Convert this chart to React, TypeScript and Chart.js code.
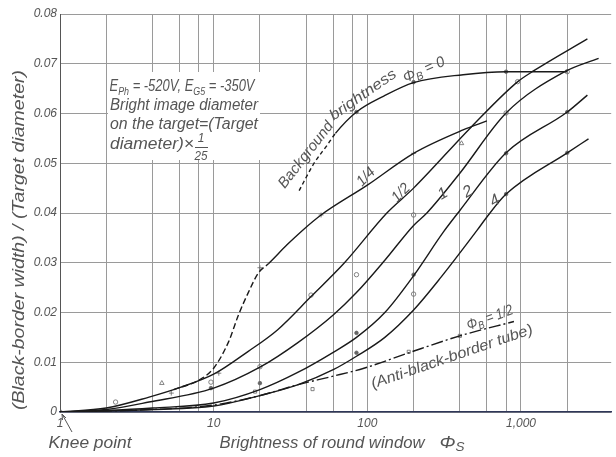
import React, { useEffect, useRef } from 'react';
import { Chart, registerables } from 'chart.js';
Chart.register(...registerables);

// ---- data ----
const xGridValues = [1, 2, 4, 6, 8, 10, 20, 40, 60, 80, 100, 200, 400, 600, 800, 1000, 2000];
const xTickLabels: Record<number, string> = { 1: '1', 10: '10', 100: '100', 1000: '1,000' };
const yTickValues = [0, 0.01, 0.02, 0.03, 0.04, 0.05, 0.06, 0.07, 0.08];

const phiB0X = [36, 45, 55, 62, 85, 128, 200, 420, 800, 2000];
const phiB0Y = [0.0445, 0.05, 0.0537, 0.056, 0.0603, 0.0635, 0.0662, 0.0678, 0.0684, 0.0684];

const phiB14X = [5.5, 8, 10, 12.5, 14.5, 16.8, 19.6, 22.7, 30, 37.5, 50, 100, 200, 420, 600];
const phiB14Y = [0.0045, 0.0064, 0.0088, 0.0141, 0.0195, 0.024, 0.028, 0.0298, 0.0336, 0.0364, 0.0396, 0.0456, 0.052, 0.0567, 0.0585];

const phiB12X = [1, 2, 3.8, 6, 10, 16.8, 26, 43, 71, 134, 200, 475, 953, 1213, 2705];
const phiB12Y = [0, 0.0008, 0.003, 0.0049, 0.0076, 0.0122, 0.0165, 0.0232, 0.03, 0.04, 0.045, 0.0573, 0.0664, 0.0686, 0.075];

const phiB1X = [1, 2, 3.8, 10, 20, 35.5, 60, 85, 130, 200, 244, 400, 800, 1926, 3200];
const phiB1Y = [0, 0.0005, 0.002, 0.0048, 0.009, 0.014, 0.0195, 0.024, 0.0305, 0.0375, 0.04, 0.048, 0.0601, 0.0684, 0.0711];

const phiB2X = [1, 2, 4, 10, 20, 35.5, 60, 85, 130, 200, 313, 400, 800, 2000, 2705];
const phiB2Y = [0, 0.0003, 0.0008, 0.0018, 0.0045, 0.008, 0.012, 0.015, 0.02, 0.0274, 0.0362, 0.0405, 0.0521, 0.0603, 0.0637];

const phiB4X = [1, 4, 10, 20, 35.5, 60, 85, 130, 200, 300, 520, 600, 800, 2000, 2750];
const phiB4Y = [0, 0.0005, 0.0012, 0.0033, 0.0055, 0.0085, 0.0112, 0.015, 0.0205, 0.027, 0.0366, 0.0392, 0.0438, 0.0521, 0.0549];

const antiX = [1, 4, 10, 20, 35.5, 58, 95, 186, 400, 900];
const antiY = [0, 0.0005, 0.0014, 0.0033, 0.0055, 0.0071, 0.0088, 0.0119, 0.0153, 0.0182];

const circleX = [1, 2.3, 9.6, 20, 43, 85, 200, 200, 800, 950, 2000];
const circleY = [0, 0.002, 0.006, 0.0091, 0.0235, 0.0276, 0.0396, 0.0237, 0.0601, 0.0664, 0.0684];
const dotX = [9.6, 20, 85, 85, 200, 800, 2000, 800, 2000, 85, 200, 800];
const dotY = [0.0048, 0.0058, 0.0159, 0.0119, 0.0276, 0.052, 0.0603, 0.0438, 0.0521, 0.0603, 0.0663, 0.0684];
const squareX = [18.6, 44, 186, 400];
const squareY = [0.0041, 0.0046, 0.0121, 0.0153];
const triX = [4.6, 410];
const triY = [0.0058, 0.054];
const crossX = [5.3, 10.8, 20, 50, 200];
const crossY = [0.0038, 0.0078, 0.029, 0.0396, 0.052];

// ---- style ----
const FONT = '"Liberation Sans", Arial, sans-serif';
const TXT = '#555555';
const LINE = '#1a1a1a';

const pts = (xs: number[], ys: number[]) => xs.map((x, i) => ({ x, y: ys[i] }));

type Seg = { t: string; sub?: boolean };
function rich(ctx: CanvasRenderingContext2D, segs: Seg[], cx: number, cy: number, size: number, angle: number, width?: number) {
  ctx.save();
  ctx.translate(cx, cy);
  ctx.rotate((angle * Math.PI) / 180);
  const mainF = `italic ${size}px ${FONT}`;
  const subF = `italic ${Math.round(size * 0.7)}px ${FONT}`;
  let total = 0;
  const ws = segs.map((s) => {
    ctx.font = s.sub ? subF : mainF;
    const w = ctx.measureText(s.t).width;
    total += w;
    return w;
  });
  if (width) ctx.scale(width / total, 1);
  ctx.fillStyle = TXT;
  ctx.textBaseline = 'middle';
  ctx.textAlign = 'left';
  let x = -total / 2;
  segs.forEach((s, i) => {
    ctx.font = s.sub ? subF : mainF;
    ctx.fillText(s.t, x, s.sub ? size * 0.28 : 0);
    x += ws[i];
  });
  ctx.restore();
}
const plain = (ctx: CanvasRenderingContext2D, t: string, cx: number, cy: number, size: number, angle: number, width?: number) =>
  rich(ctx, [{ t }], cx, cy, size, angle, width);

const textPlugin = {
  id: 'texts',
  beforeDatasetsDraw(chart: any) {
    const ctx = chart.ctx as CanvasRenderingContext2D;
    ctx.save();
    ctx.fillStyle = '#ffffff';
    ctx.fillRect(108, 72, 152, 88);
    ctx.restore();
  },
  afterDraw(chart: any) {
    const ctx = chart.ctx as CanvasRenderingContext2D;
    // note block
    rich(ctx, [{ t: 'E' }, { t: 'Ph', sub: true }, { t: ' = -520V, E' }, { t: 'G5', sub: true }, { t: ' = -350V' }], 182, 87, 16, 0, 145);
    plain(ctx, 'Bright image diameter', 184, 106, 16, 0, 148);
    plain(ctx, 'on the target=(Target', 184, 125, 16, 0, 148);
    plain(ctx, 'diameter)×', 152, 145, 16, 0, 84);
    plain(ctx, '1', 201, 139, 12, 0);
    plain(ctx, '25', 201, 156, 13, 0, 13);
    ctx.save();
    ctx.strokeStyle = TXT;
    ctx.lineWidth = 1;
    ctx.beginPath();
    ctx.moveTo(195, 147.5);
    ctx.lineTo(208, 147.5);
    ctx.stroke();
    ctx.restore();

    // curve labels
    plain(ctx, 'Background', 306, 155, 15, -52, 80);
    plain(ctx, 'brightness', 363, 95, 15, -35, 78);
    rich(ctx, [{ t: 'Φ' }, { t: 'B', sub: true }, { t: ' = 0' }], 424, 70, 15, -24, 44);
    plain(ctx, '1/4', 366, 177, 15, -45, 20);
    plain(ctx, '1/2', 401, 193, 15, -45, 20);
    plain(ctx, '1', 443, 194, 16, -30);
    plain(ctx, '2', 468, 192, 16, -30);
    plain(ctx, '4', 495, 201, 16, -30);
    rich(ctx, [{ t: 'Φ' }, { t: 'B', sub: true }, { t: ' = 1/2' }], 490, 318, 15, -20, 48);
    plain(ctx, '(Anti-black-border tube)', 452, 357, 15, -19, 170);

    // axis titles
    plain(ctx, '(Black-border width) / (Target diameter)', 19, 240, 17, -90, 340);
    plain(ctx, 'Brightness of round window', 322, 443, 17, 0, 205);
    rich(ctx, [{ t: 'Φ' }, { t: 'S', sub: true }], 452, 443, 17, 0, 25);
    plain(ctx, 'Knee point', 90, 443, 17, 0, 83);

    // knee arrow
    ctx.save();
    ctx.strokeStyle = TXT;
    ctx.lineWidth = 1;
    ctx.beginPath();
    ctx.moveTo(72, 432);
    ctx.lineTo(62, 414);
    ctx.moveTo(62, 414);
    ctx.lineTo(62.5, 420);
    ctx.moveTo(62, 414);
    ctx.lineTo(66, 418);
    ctx.stroke();
    ctx.restore();
  },
};

export default function App() {
  const ref = useRef<HTMLCanvasElement>(null);
  useEffect(() => {
    document.body.style.margin = '0';
    const curve = (data: { x: number; y: number }[], extra: any = {}) => ({
      data,
      borderColor: LINE,
      borderWidth: 1.4,
      pointRadius: 0,
      fill: false,
      cubicInterpolationMode: 'monotone',
      ...extra,
    });
    const marks = (data: { x: number; y: number }[], style: string, filled: boolean, r = 2) => ({
      data,
      showLine: false,
      pointStyle: style,
      pointRadius: r,
      pointBorderWidth: 0.8,
      pointBorderColor: '#666',
      pointBackgroundColor: filled ? '#666' : 'rgba(255,255,255,0)',
    });
    const chart = new Chart(ref.current!, {
      type: 'line',
      data: {
        datasets: [
          curve(pts(phiB0X, phiB0Y), {
            segment: { borderDash: (c: any) => (c.p1.parsed.x <= 62 ? [4, 3] : undefined) },
          }),
          curve(pts(phiB14X, phiB14Y), {
            segment: { borderDash: (c: any) => (c.p1.parsed.x <= 22.7 ? [6, 3] : undefined) },
          }),
          curve(pts(phiB12X, phiB12Y)),
          curve(pts(phiB1X, phiB1Y)),
          curve(pts(phiB2X, phiB2Y)),
          curve(pts(phiB4X, phiB4Y)),
          curve(pts(antiX, antiY), { borderDash: [12, 3, 2, 3] }),
          marks(pts(circleX, circleY), 'circle', false, 2.2),
          marks(pts(dotX, dotY), 'circle', true, 1.8),
          marks(pts(squareX, squareY), 'rect', false, 2.2),
          marks(pts(triX, triY), 'triangle', false, 2.6),
          marks(pts(crossX, crossY), 'cross', false, 2.5),
        ] as any,
      },
      options: {
        responsive: false,
        animation: false,
        devicePixelRatio: 1,
        layout: { padding: { top: 14, left: 0, right: 0, bottom: 0 } },
        plugins: { legend: { display: false }, tooltip: { enabled: false } },
        scales: {
          x: {
            type: 'logarithmic',
            min: 1,
            max: 3864,
            afterBuildTicks: (axis: any) => {
              axis.ticks = xGridValues.map((v) => ({ value: v }));
            },
            afterFit: (scale: any) => {
              scale.height = 45;
            },
            ticks: {
              autoSkip: false,
              maxRotation: 0,
              minRotation: 0,
              padding: 4,
              color: TXT,
              font: { family: FONT, size: 12, style: 'italic' },
              callback: (v: any) => xTickLabels[Number(v)] ?? '',
            },
            grid: { color: '#9a9a9a', lineWidth: 1, drawTicks: false },
            border: { color: '#2f3759', width: 1.5 },
          },
          y: {
            type: 'linear',
            min: 0,
            max: 0.08,
            afterBuildTicks: (axis: any) => {
              axis.ticks = yTickValues.map((v) => ({ value: v }));
            },
            afterFit: (scale: any) => {
              scale.width = 60;
            },
            ticks: {
              padding: 3,
              color: TXT,
              font: { family: FONT, size: 12, style: 'italic' },
              callback: (v: any) => (Number(v) === 0 ? '0' : Number(v).toFixed(2)),
            },
            grid: { color: '#9a9a9a', lineWidth: 1, drawTicks: false },
            border: { color: '#555', width: 1 },
          },
        },
      } as any,
      plugins: [textPlugin],
    });
    return () => chart.destroy();
  }, []);
  return (
    <div style={{ width: 616, height: 457 }}>
      <canvas ref={ref} width={616} height={457} style={{ display: 'block', width: 616, height: 457 }} />
    </div>
  );
}
